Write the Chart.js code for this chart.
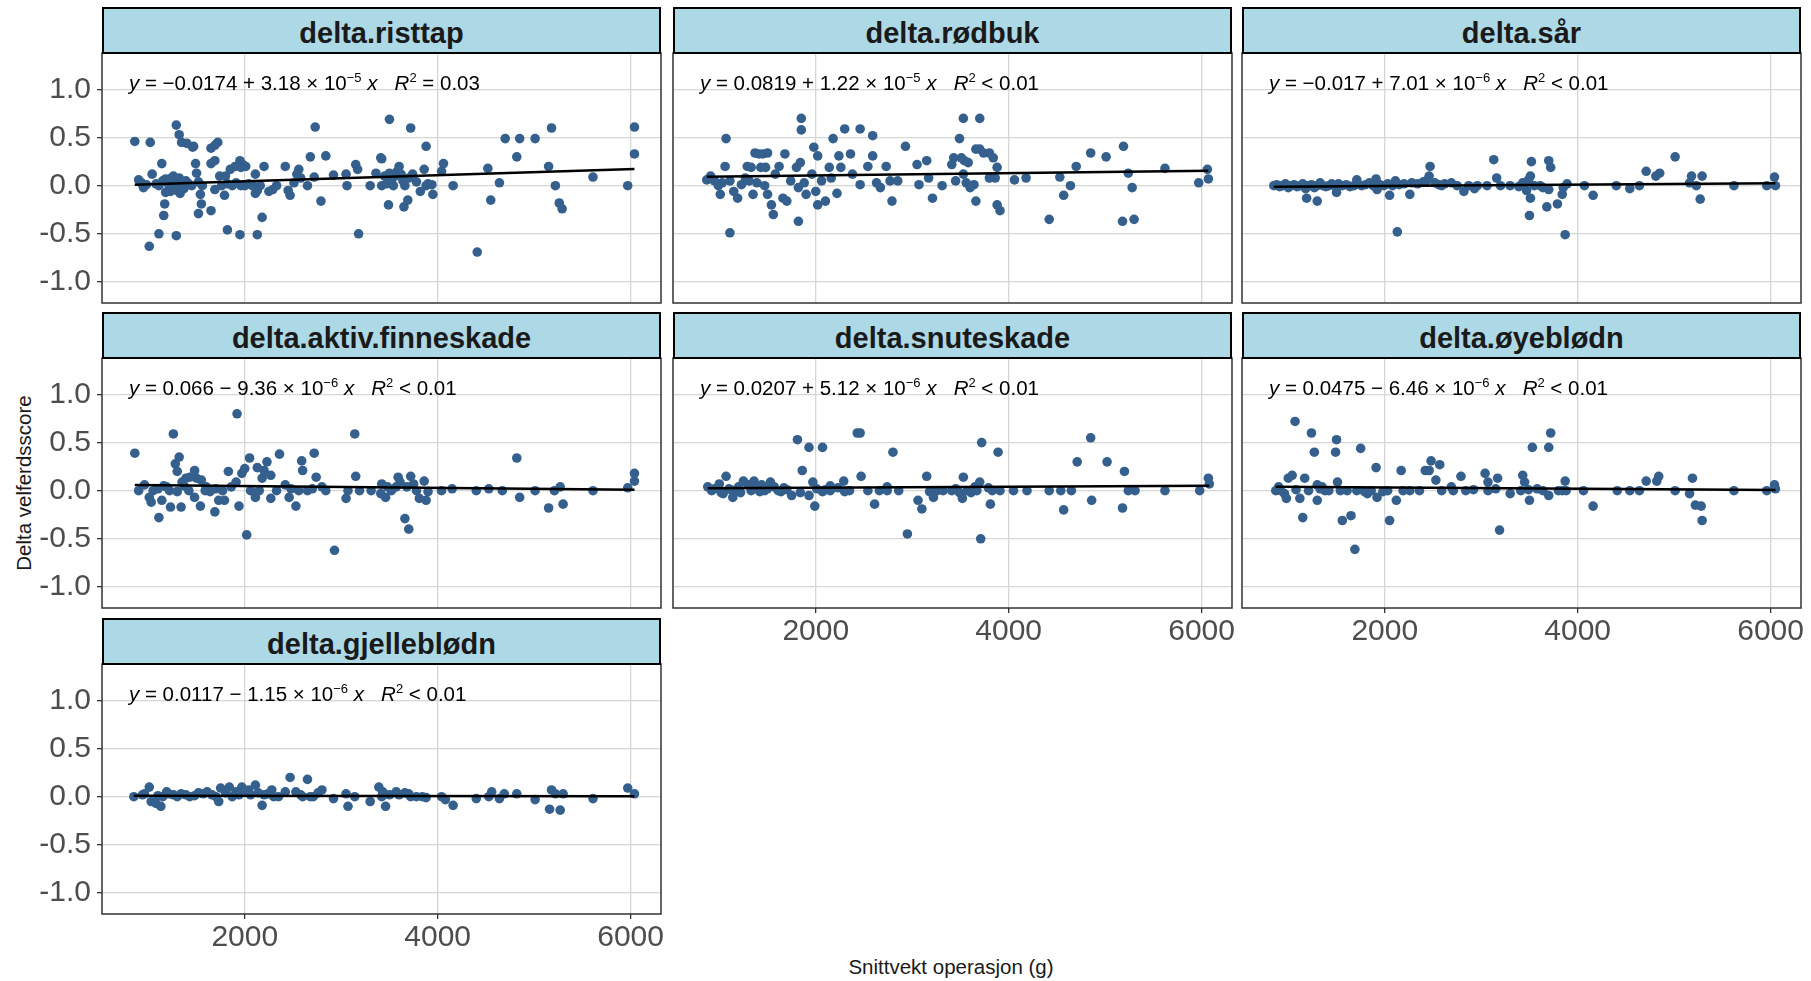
<!DOCTYPE html>
<html>
<head>
<meta charset="utf-8">
<script src="https://cdn.jsdelivr.net/npm/chart.js@4.4.0/dist/chart.umd.min.js"></script>
<style>
  body { margin: 0; width: 1811px; height: 981px; position: relative; overflow: hidden; background: #fff;
         font-family: "Liberation Sans", Arial, sans-serif; }
  canvas { position: absolute; }
  .strip { position: absolute; box-sizing: border-box; background: #ADD8E6; border: 2px solid #000;
           text-align: center; font-weight: bold; font-size: 29px; color: #1a1a1a; z-index: 2; }
  .eq { position: absolute; font-size: 20.5px; line-height: 24px; white-space: nowrap; color: #000; z-index: 2; }
  .eq sup { font-size: 13px; vertical-align: 8px; line-height: 0; }
  .title { position: absolute; font-size: 20.5px; line-height: 24px; color: #1a1a1a; text-align: center; }
</style>
</head>
<body>
<div class="title" style="left:651px; top:955px; width:600px;">Snittvekt operasjon (g)</div>
<div class="title" style="left:-126px; top:471px; width:300px; transform:rotate(-90deg);">Delta velferdsscore</div>
<script>
// facet names, in panel order (row by row)
const panelNames = ['delta.risttap', 'delta.rødbuk', 'delta.sår', 'delta.aktiv.finneskade',
                    'delta.snuteskade', 'delta.øyeblødn', 'delta.gjelleblødn'];

// fitted line y = a + b*x, as printed in each panel
const intercepts = [-0.0174, 0.0819, -0.017, 0.066, 0.0207, 0.0475, 0.0117];
const slopes = [3.18e-5, 1.22e-5, 7.01e-6, -9.36e-6, 5.12e-6, -6.46e-6, -1.15e-6];
const eqLabels = [
  '<i>y</i> = −0.0174 + 3.18 × 10<sup>−5</sup> <i>x</i>&nbsp;&nbsp;&nbsp;<i>R</i><sup>2</sup> = 0.03',
  '<i>y</i> = 0.0819 + 1.22 × 10<sup>−5</sup> <i>x</i>&nbsp;&nbsp;&nbsp;<i>R</i><sup>2</sup> &lt; 0.01',
  '<i>y</i> = −0.017 + 7.01 × 10<sup>−6</sup> <i>x</i>&nbsp;&nbsp;&nbsp;<i>R</i><sup>2</sup> &lt; 0.01',
  '<i>y</i> = 0.066 − 9.36 × 10<sup>−6</sup> <i>x</i>&nbsp;&nbsp;&nbsp;<i>R</i><sup>2</sup> &lt; 0.01',
  '<i>y</i> = 0.0207 + 5.12 × 10<sup>−6</sup> <i>x</i>&nbsp;&nbsp;&nbsp;<i>R</i><sup>2</sup> &lt; 0.01',
  '<i>y</i> = 0.0475 − 6.46 × 10<sup>−6</sup> <i>x</i>&nbsp;&nbsp;&nbsp;<i>R</i><sup>2</sup> &lt; 0.01',
  '<i>y</i> = 0.0117 − 1.15 × 10<sup>−6</sup> <i>x</i>&nbsp;&nbsp;&nbsp;<i>R</i><sup>2</sup> &lt; 0.01'
];

const xTicks = [2000, 4000, 6000];
const yTicks = [-1.0, -0.5, 0.0, 0.5, 1.0];

// [snittvekt (g), delta score]
const risttap = [
  [860,0.46],[1020,0.45],[1290,0.63],[1320,0.53],[1345,0.45],[1400,0.44],[1460,0.40],[1470,0.41],
  [1650,0.39],[1690,0.42],[1720,0.45],[1490,0.23],[1500,0.13],[1140,0.23],[1040,0.12],[900,0.06],
  [930,0.03],[950,-0.02],[980,0.01],[1080,0.02],[1110,0.00],[1150,0.05],[1180,0.07],[1200,0.03],
  [1220,-0.03],[1240,0.08],[1260,0.00],[1280,0.05],[1300,-0.05],[1320,0.08],[1350,0.00],[1370,-0.03],
  [1390,0.05],[1420,0.02],[1180,-0.07],[1230,-0.06],[1260,0.10],[1330,-0.08],[1450,0.00],[1520,0.04],
  [1560,0.00],[1170,-0.19],[1160,-0.31],[1110,-0.50],[1010,-0.63],[1290,-0.52],[1540,-0.09],[1550,-0.19],
  [1520,-0.29],[1650,-0.26],[1650,0.23],[1690,0.26],[1690,-0.04],[1790,-0.10],[1820,-0.46],[1950,-0.51],
  [2130,-0.51],[2180,-0.33],[1740,0.10],[1800,0.10],[1850,0.17],[1900,0.20],[1950,0.26],[1980,0.22],
  [2010,0.20],[1960,0.19],[1760,0.00],[1820,0.02],[1870,0.00],[1910,0.03],[1960,0.00],[2000,0.00],
  [2040,0.02],[2080,0.00],[2110,-0.08],[2130,-0.05],[2160,0.00],[2110,0.12],[2200,0.20],[2250,-0.06],
  [2290,-0.04],[2330,0.00],[2420,0.20],[2450,-0.05],[2470,-0.10],[2510,0.03],[2540,0.12],[2560,0.17],
  [2580,0.08],[2650,0.00],[2680,0.30],[2730,0.61],[2840,0.31],[2790,-0.16],[2720,0.09],[2920,0.11],
  [3050,0.12],[3060,0.00],[3150,0.22],[3170,0.17],[3180,-0.50],[3300,0.00],[3360,0.13],[3410,0.29],
  [3420,0.28],[3500,0.69],[3720,0.60],[3490,-0.20],[3650,-0.22],[3690,-0.15],[3880,0.41],[3420,0.00],
  [3450,0.10],[3470,0.02],[3500,0.13],[3520,0.05],[3540,0.00],[3560,0.10],[3580,0.15],[3600,0.20],
  [3620,0.12],[3640,0.05],[3660,0.00],[3700,0.08],[3740,0.12],[3780,0.04],[3820,-0.06],[3860,0.17],
  [3880,0.00],[3900,0.02],[3950,-0.09],[3940,0.01],[4060,0.23],[4040,0.15],[4160,0.00],[4410,-0.69],
  [4520,0.18],[4550,-0.15],[4640,0.03],[4700,0.49],[4820,0.30],[4850,0.49],[5010,0.49],[5180,0.60],
  [5150,0.20],[5220,0.00],[5260,-0.18],[5290,-0.24],[5610,0.09],[5970,0.00],[6040,0.61],[6040,0.33]
];

const rodbuk = [
  [870,0.06],[910,0.10],[1070,0.49],[1060,0.20],[1030,0.03],[1010,-0.09],[1110,-0.49],[950,0.05],
  [990,0.00],[1110,0.05],[1150,-0.06],[1190,-0.13],[1230,0.01],[1270,0.08],[1290,0.20],[1350,-0.09],
  [1370,0.34],[1410,0.33],[1450,0.33],[1500,0.34],[1480,0.19],[1430,0.19],[1330,0.19],[1310,0.05],
  [1390,0.03],[1470,0.00],[1500,-0.09],[1540,-0.20],[1560,-0.30],[1580,0.12],[1620,0.20],[1660,-0.13],
  [1700,-0.16],[1680,0.33],[1740,0.05],[1800,0.19],[1840,0.24],[1850,0.70],[1850,0.58],[1820,-0.37],
  [1820,-0.02],[1880,0.03],[1900,-0.09],[1960,0.12],[1980,0.40],[2020,0.31],[2000,-0.06],[2020,-0.20],
  [2060,0.05],[2100,-0.16],[2140,0.19],[2160,0.08],[2180,0.49],[2220,-0.08],[2240,0.31],[2260,0.19],
  [2300,0.59],[2360,0.33],[2380,0.12],[2460,0.59],[2460,0.01],[2540,0.20],[2590,0.52],[2590,0.31],
  [2630,0.03],[2670,-0.02],[2730,0.20],[2770,0.05],[2790,-0.16],[2850,0.05],[2930,0.41],[3050,0.22],
  [3070,0.01],[3150,0.26],[3170,0.08],[3210,-0.13],[3310,0.00],[3410,0.22],[3450,0.05],[3490,0.49],
  [3530,0.70],[3510,0.29],[3540,0.26],[3560,0.03],[3600,-0.02],[3640,0.01],[3660,-0.16],[3700,0.70],
  [3660,0.38],[3700,0.38],[3740,0.34],[3800,0.34],[3840,0.29],[3880,0.19],[3860,0.08],[3800,0.08],
  [3880,-0.20],[3910,-0.26],[4060,0.06],[4180,0.08],[4420,-0.35],[4530,0.09],[4570,-0.10],[4640,0.00],
  [4700,0.20],[4850,0.34],[5010,0.30],[5190,0.41],[5240,0.13],[5280,-0.02],[5180,-0.37],[5300,-0.35],
  [5620,0.18],[5970,0.03],[6060,0.17],[6070,0.07],[3430,0.29],[3530,0.12],[3580,0.24]
];

const sar = [
  [850,0.00],[880,0.01],[910,-0.01],[940,0.00],[970,0.02],[1000,-0.02],[1030,0.00],[1060,0.01],
  [1090,-0.01],[1120,0.00],[1150,0.02],[1180,-0.03],[1210,0.00],[1240,0.01],[1270,-0.02],[1300,0.00],
  [1330,0.03],[1360,0.00],[1390,-0.01],[1420,0.00],[1450,0.02],[1480,0.00],[1520,0.02],[1560,0.00],
  [1600,0.01],[1640,-0.01],[1680,0.00],[1720,0.02],[1760,0.00],[1800,0.01],[1840,0.03],[1880,0.00],
  [1950,0.01],[1990,0.00],[2030,0.02],[2080,0.00],[2150,0.01],[2200,0.02],[2280,0.03],[2340,0.02],
  [2400,0.04],[2430,0.05],[2520,0.03],[2560,0.01],[2620,0.02],[2750,0.00],[2870,0.00],[2960,0.00],
  [1190,-0.13],[1300,-0.16],[1500,-0.07],[1710,0.06],[1910,0.07],[1920,-0.04],[2050,-0.10],[2110,0.05],
  [2130,-0.48],[2260,-0.09],[2470,0.20],[2460,0.10],[2590,0.00],[2690,0.03],[2820,-0.06],[2930,-0.03],
  [3060,0.00],[3130,0.27],[3160,0.08],[3200,0.00],[3300,0.00],[3430,0.03],[3490,0.06],[3520,0.25],
  [3510,0.10],[3510,-0.13],[3500,-0.31],[3610,0.00],[3700,0.26],[3720,0.19],[3680,-0.22],[3700,-0.04],
  [3790,-0.19],[3840,-0.09],[3850,-0.02],[3870,-0.51],[3890,0.02],[4070,0.00],[4160,-0.10],[4400,0.00],
  [4540,-0.03],[4640,0.00],[4710,0.15],[4810,0.10],[4850,0.13],[5010,0.30],[5180,0.10],[5160,0.03],
  [5230,0.00],[5270,-0.14],[5290,0.10],[5620,0.00],[5960,0.00],[6040,0.09],[6050,0.00],
  [3390,-0.01],[3450,0.02],[3550,0.00],[3640,-0.02],[3470,-0.05]
];

const finneskade = [
  [860,0.39],[900,0.00],[960,0.06],[1010,-0.07],[1030,-0.12],[1050,0.00],[1110,-0.28],[1140,-0.10],
  [1190,0.04],[1230,-0.17],[1260,0.59],[1280,0.28],[1300,0.20],[1320,0.35],[1340,-0.17],[1300,-0.01],
  [1350,0.09],[1390,0.13],[1430,0.14],[1480,0.21],[1500,0.13],[1550,0.11],[1480,-0.07],[1540,-0.16],
  [1590,0.00],[1640,-0.01],[1690,-0.22],[1730,-0.10],[1770,0.00],[1790,-0.10],[1830,0.20],[1860,0.04],
  [1910,0.09],[1920,0.80],[1940,-0.16],[1970,0.18],[2000,0.23],[2020,-0.46],[2050,0.34],[2060,0.00],
  [2110,-0.07],[2130,0.24],[2180,0.13],[2200,0.21],[2230,0.30],[2270,0.16],[2270,-0.08],[2330,0.00],
  [2360,0.38],[2420,0.06],[2460,-0.07],[2530,-0.16],[2560,0.00],[2590,0.31],[2600,0.21],[2650,0.00],
  [2720,0.39],[2740,0.14],[2800,0.04],[2840,0.00],[2930,-0.62],[3050,-0.08],[3070,0.00],[3140,0.59],
  [3150,0.15],[3190,0.00],[3310,0.00],[3420,0.07],[3460,-0.07],[3520,0.00],[3570,0.04],[3590,0.14],
  [3660,-0.29],[3700,-0.40],[3720,0.15],[3750,0.07],[3780,0.00],[3810,-0.08],[3860,0.10],[3880,-0.10],
  [3900,-0.01],[4040,0.00],[4150,0.02],[4400,0.00],[4530,0.02],[4670,0.00],[4820,0.34],[4850,-0.07],
  [5010,0.00],[5150,-0.18],[5210,0.00],[5270,0.04],[5300,-0.14],[5610,0.00],[5970,0.03],[6040,0.18],
  [6040,0.10],[3410,-0.03],[3480,0.04],[3610,0.09],[3680,0.04],
  [1100,0.02],[1160,0.05],[1220,0.00],[1370,0.05],[1420,0.00],[1600,0.04],[1700,0.02],[2150,0.00],
  [2480,0.02],[2700,0.02]
];

const snuteskade = [
  [880,0.04],[920,0.00],[1000,0.07],[1040,-0.03],[1070,0.15],[1100,0.02],[1140,-0.07],[1160,-0.01],
  [1200,0.04],[1250,0.10],[1300,0.06],[1360,0.10],[1390,0.04],[1440,0.06],[1470,0.00],[1530,0.09],
  [1570,0.04],[1610,0.00],[1670,0.03],[1750,-0.05],[1810,0.53],[1860,0.21],[1930,0.45],[1930,-0.05],
  [1970,0.09],[1990,-0.16],[2010,0.02],[2070,0.45],[2070,-0.01],[2150,0.00],[2230,0.03],[2290,0.10],
  [2350,0.00],[2430,0.60],[2460,0.60],[2470,0.15],[2540,0.00],[2610,-0.14],[2660,0.00],[2740,0.04],
  [2800,0.40],[2860,0.00],[2950,-0.45],[3060,-0.10],[3100,-0.19],[3150,0.15],[3180,-0.01],[3220,-0.07],
  [3320,0.00],[3410,0.00],[3530,0.14],[3520,-0.08],[3570,0.00],[3650,0.04],[3700,0.09],[3720,0.50],
  [3710,-0.50],[3810,-0.14],[3830,0.00],[3890,0.40],[3910,0.00],[4050,0.00],[4190,0.00],[4420,0.00],
  [4540,0.00],[4570,-0.20],[4650,0.00],[4710,0.30],[4850,0.55],[4860,-0.10],[5020,0.30],[5200,0.20],
  [5180,-0.18],[5240,0.00],[5310,0.00],[5620,0.00],[5980,0.00],[6070,0.13],[6080,0.07],
  [2150,0.05],[2740,0.00],[3260,0.00],[3450,0.02],[3490,-0.02],[3610,-0.02],[3670,0.00],[3790,0.03],
  [950,0.02],[1020,-0.02],[1120,0.01],[1220,-0.02],[1330,0.00],[1420,-0.01],[1500,0.02],[1640,-0.01],
  [1700,0.01],[1840,-0.02],[2100,0.01],[2300,-0.01]
];

const oyeblodn = [
  [870,0.00],[900,0.04],[960,-0.03],[980,-0.08],[1000,0.13],[1040,0.16],[1070,0.72],[1120,-0.08],
  [1150,-0.28],[1170,0.13],[1240,0.60],[1270,0.40],[1300,-0.10],[1300,0.06],[1350,0.04],[1380,0.00],
  [1490,0.40],[1500,0.53],[1510,0.09],[1540,0.00],[1560,-0.31],[1650,-0.26],[1690,-0.61],[1750,0.44],
  [1820,-0.03],[1910,0.24],[1920,-0.07],[1980,-0.01],[2050,-0.31],[2120,-0.10],[2170,0.21],[2260,0.00],
  [2360,0.00],[2420,0.21],[2460,0.21],[2480,0.31],[2530,0.11],[2570,0.27],[2590,0.00],[2690,0.04],
  [2790,0.15],[2840,0.00],[2920,0.01],[3040,0.18],[3070,0.09],[3150,0.02],[3170,0.13],[3190,-0.41],
  [3300,-0.03],[3430,0.16],[3450,0.09],[3490,0.01],[3500,-0.10],[3530,0.45],[3580,0.02],[3700,0.45],
  [3720,0.60],[3700,-0.05],[3800,0.00],[3870,0.10],[3880,0.00],[4060,0.00],[4160,-0.16],[4410,0.00],
  [4540,0.00],[4640,0.00],[4710,0.10],[4820,0.10],[4840,0.15],[5010,0.00],[5160,-0.03],[5190,0.13],
  [5220,-0.15],[5280,-0.16],[5290,-0.31],[5620,0.00],[5960,0.00],[6040,0.06],[6050,0.02],
  [920,0.00],[1080,0.01],[1210,0.00],[1330,0.02],[1420,0.00],[1610,0.00],[1710,0.00],[1790,-0.01],
  [1860,0.00],[2030,0.00],[2190,0.00],[2710,0.00],[3070,0.00],[3410,0.00],[3640,0.00],[3840,0.00]
];

const gjelleblodn = [
  [850,0.00],[940,0.02],[1010,0.10],[1030,-0.05],[1080,-0.07],[1130,-0.10],[1190,0.05],[1260,0.02],
  [1340,0.03],[1430,0.00],[1520,0.04],[1610,0.05],[1660,0.02],[1730,-0.05],[1750,0.09],[1840,0.10],
  [1910,0.05],[1970,0.10],[2040,0.07],[2110,0.12],[2180,-0.09],[2200,0.02],[2280,0.07],[2350,0.00],
  [2420,0.05],[2470,0.20],[2530,0.05],[2600,0.00],[2650,0.18],[2710,0.00],[2800,0.07],[2920,-0.02],
  [3050,0.03],[3070,-0.10],[3140,0.00],[3300,-0.05],[3390,0.10],[3430,0.05],[3460,-0.10],[3500,0.02],
  [3570,0.05],[3660,0.04],[3720,0.00],[3840,0.00],[3880,-0.01],[4040,0.00],[4080,-0.03],[4160,-0.09],
  [4400,-0.02],[4530,0.00],[4560,0.05],[4640,-0.02],[4690,0.03],[4820,0.03],[5010,-0.03],[5160,-0.13],
  [5180,0.07],[5220,0.03],[5270,-0.14],[5300,0.03],[5610,-0.02],[5970,0.09],[6040,0.03],
  [960,0.03],[1100,0.01],[1150,0.00],[1210,0.03],[1300,0.00],[1390,0.02],[1480,0.01],[1570,0.03],
  [1700,0.00],[1800,0.04],[1870,0.00],[1940,0.02],[2010,0.05],[2060,0.02],[2140,0.04],[2240,0.03],
  [2300,0.00],[2580,0.02],[2680,0.00],[2760,0.04],[3420,0.00],[3600,0.02],[3700,0.03],[3780,0.00]
];

const panelData = [risttap, rodbuk, sar, finneskade, snuteskade, oyeblodn, gjelleblodn];

// facet grid geometry (page pixels)
const colLeft = [102, 673, 1242];
const rowTop = [7, 312, 618];
const PW = 559, PH = 250, SH = 46;
const ML = 100, MR = 40, MB = 50, MT = 24;
const FONT = '"Liberation Sans", Arial, sans-serif';

// panel border drawn around the plotting area
const framePlugin = {
  id: 'frame',
  afterDraw(chart) {
    const a = chart.chartArea, c = chart.ctx;
    c.save();
    c.strokeStyle = '#333';
    c.lineWidth = 1.5;
    c.strokeRect(a.left, a.top, a.right - a.left, a.bottom - a.top);
    c.restore();
  }
};

panelNames.forEach((name, i) => {
  const col = i % 3, row = Math.floor(i / 3);
  const left = colLeft[col], top = rowTop[row];
  const showY = col === 0;
  const showX = i >= 4;

  // canvas reaches past the plot on every side so tick labels never push the area in
  const cv = document.createElement('canvas');
  cv.width = PW + ML + MR;
  cv.height = PH + MB + MT;
  cv.style.left = (left - ML) + 'px';
  cv.style.top = (top + SH - MT) + 'px';
  document.body.appendChild(cv);

  const strip = document.createElement('div');
  strip.className = 'strip';
  strip.style.cssText = `left:${left}px;top:${top}px;width:${PW}px;height:${SH + 1}px;line-height:${SH - 2}px;padding-top:2px;`;
  strip.textContent = name;
  document.body.appendChild(strip);

  const eq = document.createElement('div');
  eq.className = 'eq';
  eq.style.left = (left + 27) + 'px';
  eq.style.top = (top + SH + 18) + 'px';
  eq.innerHTML = eqLabels[i];
  document.body.appendChild(eq);

  const pts = panelData[i];
  const xs = pts.map(p => p[0]);
  const x0 = Math.min(...xs), x1 = Math.max(...xs);
  const fit = [x0, x1].map(x => ({ x: x, y: intercepts[i] + slopes[i] * x }));

  new Chart(cv.getContext('2d'), {
    type: 'scatter',
    data: {
      datasets: [
        { data: fit, showLine: true, borderColor: '#000', borderWidth: 2.5, pointRadius: 0 },
        { data: pts.map(p => ({ x: p[0], y: p[1] })), backgroundColor: '#35608D',
          borderWidth: 0, pointRadius: 4.8 }
      ]
    },
    options: {
      responsive: false,
      animation: false,
      devicePixelRatio: 1,
      events: [],
      layout: { padding: { left: 0, top: MT, right: MR, bottom: 0 } },
      plugins: { legend: { display: false }, tooltip: { enabled: false } },
      scales: {
        x: {
          type: 'linear', min: 520, max: 6315,
          afterBuildTicks: s => { s.ticks = xTicks.map(v => ({ value: v })); },
          afterFit: s => { s.height = MB; },
          border: { display: false },
          grid: { color: '#D6D6D6', lineWidth: 1.3, drawTicks: showX, tickLength: 5,
                  tickColor: '#333', tickWidth: 1.3 },
          ticks: { display: showX, color: '#4D4D4D', padding: 1, maxRotation: 0, autoSkip: false,
                   font: { size: 30, family: FONT }, callback: v => String(v) }
        },
        y: {
          type: 'linear', min: -1.22, max: 1.38,
          afterBuildTicks: s => { s.ticks = yTicks.map(v => ({ value: v })); },
          afterFit: s => { s.width = ML; },
          border: { display: false },
          grid: { color: '#D6D6D6', lineWidth: 1.3, drawTicks: showY, tickLength: 5,
                  tickColor: '#333', tickWidth: 1.3 },
          ticks: { display: showY, color: '#4D4D4D', padding: 6, autoSkip: false,
                   font: { size: 30, family: FONT }, callback: v => v.toFixed(1) }
        }
      }
    },
    plugins: [framePlugin]
  });
});
</script>
</body>
</html>
